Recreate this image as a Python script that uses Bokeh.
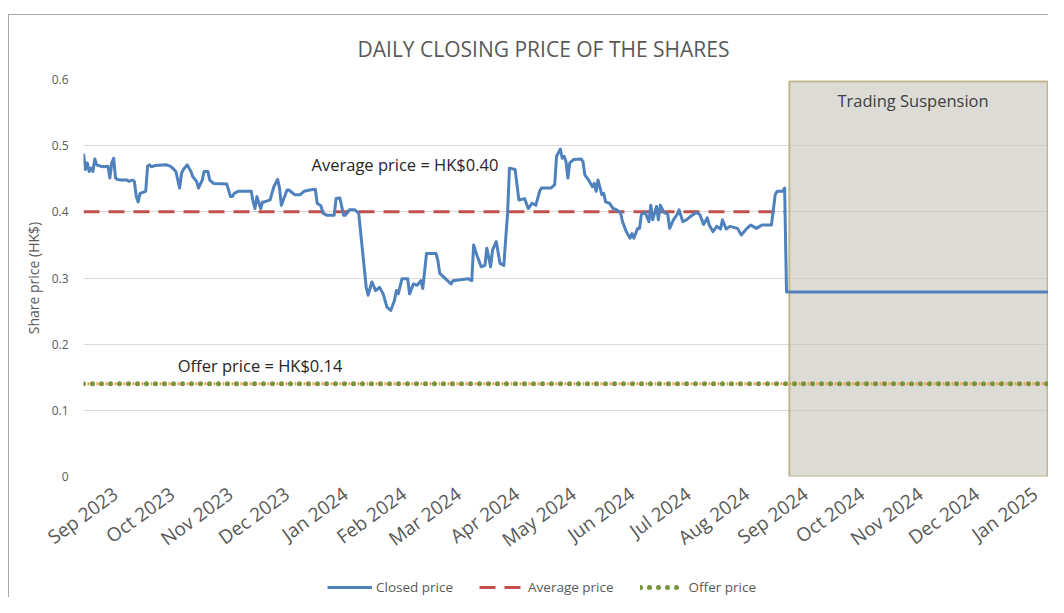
import math
import pandas as pd
from bokeh.plotting import figure
from bokeh.layouts import column
from bokeh.models import (Range1d, FixedTicker, MonthsTicker, DatetimeTickFormatter,
                          Label, Legend, LegendItem)
from bokeh.embed import file_html
from bokeh.resources import INLINE

# ---------------- data ----------------
close_dates = [
    "2023-08-15", "2023-08-16", "2023-08-17", "2023-08-18", "2023-08-19", "2023-08-20",
    "2023-08-21", "2023-08-22", "2023-08-24", "2023-08-26", "2023-08-28", "2023-08-29",
    "2023-08-30", "2023-08-31", "2023-09-01", "2023-09-02", "2023-09-04", "2023-09-07",
    "2023-09-08", "2023-09-10", "2023-09-11", "2023-09-12", "2023-09-13", "2023-09-14",
    "2023-09-17", "2023-09-18", "2023-09-19", "2023-09-20", "2023-09-22", "2023-09-28",
    "2023-09-30", "2023-10-02", "2023-10-03", "2023-10-05", "2023-10-06", "2023-10-07",
    "2023-10-09", "2023-10-11", "2023-10-12", "2023-10-14", "2023-10-15", "2023-10-17",
    "2023-10-18", "2023-10-20", "2023-10-21", "2023-10-23", "2023-10-30", "2023-11-01",
    "2023-11-02", "2023-11-03", "2023-11-05", "2023-11-12", "2023-11-13", "2023-11-14",
    "2023-11-15", "2023-11-17", "2023-11-18", "2023-11-19", "2023-11-22", "2023-11-24",
    "2023-11-26", "2023-11-27", "2023-11-28", "2023-11-29", "2023-12-01", "2023-12-02",
    "2023-12-05", "2023-12-08", "2023-12-10", "2023-12-13", "2023-12-16", "2023-12-17",
    "2023-12-19", "2023-12-20", "2023-12-22", "2023-12-26", "2023-12-27", "2023-12-29",
    "2023-12-31", "2024-01-01", "2024-01-03", "2024-01-06", "2024-01-08", "2024-01-10",
    "2024-01-12", "2024-01-13", "2024-01-15", "2024-01-17", "2024-01-19", "2024-01-21",
    "2024-01-23", "2024-01-25", "2024-01-27", "2024-01-28", "2024-01-29", "2024-01-31",
    "2024-02-03", "2024-02-04", "2024-02-06", "2024-02-08", "2024-02-10", "2024-02-11",
    "2024-02-13", "2024-02-18", "2024-02-19", "2024-02-20", "2024-02-23", "2024-02-26",
    "2024-02-27", "2024-03-06", "2024-03-08", "2024-03-09", "2024-03-11", "2024-03-13",
    "2024-03-15", "2024-03-16", "2024-03-18", "2024-03-19", "2024-03-21", "2024-03-23",
    "2024-03-25", "2024-03-27", "2024-03-28", "2024-03-31", "2024-04-02", "2024-04-05",
    "2024-04-07", "2024-04-09", "2024-04-11", "2024-04-13", "2024-04-14", "2024-04-19",
    "2024-04-21", "2024-04-22", "2024-04-24", "2024-04-25", "2024-04-26", "2024-04-27",
    "2024-04-28", "2024-04-29", "2024-05-01", "2024-05-05", "2024-05-06", "2024-05-07",
    "2024-05-09", "2024-05-11", "2024-05-12", "2024-05-13", "2024-05-14", "2024-05-16",
    "2024-05-17", "2024-05-18", "2024-05-20", "2024-05-22", "2024-05-24", "2024-05-26",
    "2024-05-27", "2024-05-29", "2024-05-31", "2024-06-01", "2024-06-02", "2024-06-04",
    "2024-06-05", "2024-06-06", "2024-06-08", "2024-06-10", "2024-06-11", "2024-06-12",
    "2024-06-14", "2024-06-15", "2024-06-16", "2024-06-18", "2024-06-20", "2024-06-21",
    "2024-06-23", "2024-06-25", "2024-06-26", "2024-06-28", "2024-06-30", "2024-07-02",
    "2024-07-05", "2024-07-07", "2024-07-09", "2024-07-11", "2024-07-12", "2024-07-14",
    "2024-07-16", "2024-07-18", "2024-07-19", "2024-07-21", "2024-07-23", "2024-07-27",
    "2024-07-29", "2024-08-01", "2024-08-03", "2024-08-06", "2024-08-09", "2024-08-14",
    "2024-08-16", "2024-08-17", "2024-08-20", "2024-08-21", "2024-08-22", "2025-01-08",
]
close_prices = [
    0.488, 0.464, 0.474, 0.461, 0.466, 0.461,
    0.480, 0.471, 0.469, 0.468, 0.469, 0.451,
    0.474, 0.481, 0.451, 0.449, 0.448, 0.448,
    0.446, 0.448, 0.446, 0.423, 0.415, 0.428,
    0.431, 0.469, 0.471, 0.468, 0.470, 0.471,
    0.469, 0.464, 0.461, 0.436, 0.458, 0.464,
    0.471, 0.461, 0.453, 0.446, 0.436, 0.448,
    0.461, 0.461, 0.448, 0.443, 0.442, 0.423,
    0.423, 0.428, 0.431, 0.431, 0.415, 0.405,
    0.423, 0.405, 0.415, 0.415, 0.418, 0.438,
    0.449, 0.436, 0.410, 0.418, 0.433, 0.433,
    0.426, 0.426, 0.431, 0.433, 0.434, 0.413,
    0.409, 0.398, 0.395, 0.395, 0.420, 0.421,
    0.395, 0.395, 0.403, 0.403, 0.398, 0.342,
    0.286, 0.274, 0.294, 0.281, 0.286, 0.276,
    0.256, 0.251, 0.266, 0.281, 0.276, 0.299,
    0.299, 0.276, 0.291, 0.289, 0.296, 0.284,
    0.337, 0.337, 0.327, 0.307, 0.299, 0.291,
    0.296, 0.299, 0.296, 0.350, 0.332, 0.317,
    0.319, 0.345, 0.317, 0.342, 0.355, 0.322,
    0.319, 0.398, 0.466, 0.464, 0.418, 0.420,
    0.405, 0.413, 0.410, 0.431, 0.436, 0.436,
    0.441, 0.484, 0.495, 0.481, 0.484, 0.476,
    0.451, 0.474, 0.479, 0.480, 0.476, 0.456,
    0.448, 0.438, 0.443, 0.431, 0.448, 0.426,
    0.428, 0.415, 0.413, 0.405, 0.403, 0.398,
    0.385, 0.370, 0.360, 0.367, 0.360, 0.375,
    0.375, 0.396, 0.399, 0.385, 0.410, 0.388,
    0.408, 0.388, 0.410, 0.399, 0.396, 0.375,
    0.388, 0.396, 0.403, 0.385, 0.388, 0.393,
    0.399, 0.396, 0.381, 0.391, 0.380, 0.370,
    0.378, 0.374, 0.388, 0.374, 0.378, 0.375,
    0.365, 0.375, 0.380, 0.375, 0.380, 0.380,
    0.426, 0.431, 0.431, 0.436, 0.279, 0.279,
]

average_price = 0.40
average_dates = ["2023-08-15", "2024-08-21"]
offer_price = 0.14
offer_dates = ["2023-08-15", "2025-01-08"]
suspension_dates = ["2024-08-23 12:00", "2025-01-07 12:00"]
suspension_top = 0.597

x_start, x_end = "2023-08-15", "2025-01-08"
y_ticks = [0, 0.1, 0.2, 0.3, 0.4, 0.5, 0.6]
y_tick_labels = ["0", "0.1", "0.2", "0.3", "0.4", "0.5", "0.6"]

title_text = "DAILY CLOSING PRICE OF THE SHARES"
avg_label = "Average price = HK$0.40"
offer_label = "Offer price = HK$0.14"
susp_label = "Trading Suspension"
avg_label_pos = ("2023-12-14", 0.472)
offer_label_pos = ("2023-10-04", 0.168)
susp_label_pos = ("2024-09-18", 0.568)
legend_labels = ["Closed price", "Average price", "Offer price"]

# ---------------- styles ----------------
FONT = "Open Sans"
GREY = "#595959"
CLOSE_STYLE = dict(line_color="#4f81bd", line_width=3, line_join="round")
AVG_STYLE = dict(line_color="#c0504d", line_width=3, line_dash="16 9")
OFFER_O_STYLE = dict(line_color="#f79646", line_width=3, line_dash="2 7", line_dash_offset=5)
OFFER_G_STYLE = dict(line_color="#77933c", line_width=5, line_dash="0 9", line_cap="round")

def ts(s):
    return pd.Timestamp(s)

# ---------------- main figure ----------------
p = figure(width=1039, height=563, x_axis_type="datetime",
           x_range=Range1d(ts(x_start), ts(x_end)), y_range=Range1d(0, 0.6),
           output_backend="svg", toolbar_location=None,
           min_border_left=74, min_border_right=0, min_border_top=64, min_border_bottom=102)
p.outline_line_color = None
p.background_fill_color = "white"
p.border_fill_color = "white"

# title
p.title.text = title_text
p.title.align = "left"
p.title.offset = 274
p.title.standoff = 34
p.title.text_font = FONT
p.title.text_font_size = "21px"
p.title.text_font_style = "normal"
p.title.text_color = GREY

# grid
p.xgrid.grid_line_color = None
p.ygrid.grid_line_color = "#d9d9d9"
p.ygrid.grid_line_width = 1
p.ygrid.ticker = FixedTicker(ticks=y_ticks)

# y axis
yax = p.yaxis[0]
yax.ticker = FixedTicker(ticks=y_ticks)
yax.major_label_overrides = {t: l for t, l in zip(y_ticks, y_tick_labels)}
yax.axis_line_color = None
yax.major_tick_line_color = None
yax.minor_tick_line_color = None
yax.major_tick_out = 0
yax.major_label_standoff = 15
yax.major_label_text_font = FONT
yax.major_label_text_font_size = "12px"
yax.major_label_text_color = GREY
yax.axis_label = "Share price (HK$)"
yax.axis_label_text_font = FONT
yax.axis_label_text_font_size = "14px"
yax.axis_label_text_font_style = "normal"
yax.axis_label_text_color = GREY
yax.axis_label_standoff = 6

# x axis
xax = p.xaxis[0]
xax.ticker = MonthsTicker(months=list(range(1, 13)))
fmt = "%b %Y"
xax.formatter = DatetimeTickFormatter(days=fmt, months=fmt, years=fmt, hours=fmt,
                                      minutes=fmt, seconds=fmt, milliseconds=fmt,
                                      microseconds=fmt, minsec=fmt, hourmin=fmt)
xax.major_label_orientation = math.radians(36)
xax.axis_line_color = None
xax.major_tick_line_color = None
xax.minor_tick_line_color = None
xax.major_tick_out = 0
xax.major_label_standoff = 15
xax.major_label_text_font = FONT
xax.major_label_text_font_size = "19px"
xax.major_label_text_color = GREY

# suspension box
p.quad(left=[ts(suspension_dates[0])], right=[ts(suspension_dates[1])],
       bottom=[0], top=[suspension_top],
       fill_color="#c6c3b9", fill_alpha=0.6, line_color="#bfb88f", line_width=2)

# lines
p.line([ts(d) for d in average_dates], [average_price] * len(average_dates), **AVG_STYLE)
p.line([ts(d) for d in offer_dates], [offer_price] * len(offer_dates), **OFFER_O_STYLE)
p.line([ts(d) for d in offer_dates], [offer_price] * len(offer_dates), **OFFER_G_STYLE)
p.line([ts(d) for d in close_dates], close_prices, **CLOSE_STYLE)

# texts
def add_label(txt, pos, size, color):
    x, y = pos
    p.add_layout(Label(x=ts(x).value / 1e6, y=y, text=txt, text_font=FONT,
                       text_font_size=size, text_color=color, text_baseline="middle"))

add_label(avg_label, avg_label_pos, "16.5px", "#262626")
add_label(offer_label, offer_label_pos, "16.5px", "#262626")
add_label(susp_label, susp_label_pos, "16.5px", "#404040")

# ---------------- legend strip ----------------
pl = figure(width=1039, height=19, x_range=Range1d(0, 1), y_range=Range1d(0, 1),
            output_backend="svg", toolbar_location=None,
            x_axis_location=None, y_axis_location=None,
            min_border_left=0, min_border_right=0, min_border_top=0, min_border_bottom=0)
pl.outline_line_color = None
pl.xgrid.visible = False
pl.ygrid.visible = False
# legend sample renderers: kept outside the visible range, only their legend swatches show
hidden_x, hidden_y = [-2, -1], [-2, -2]
lr_close = pl.line(hidden_x, hidden_y, **CLOSE_STYLE)
lr_avg = pl.line(hidden_x, hidden_y, **AVG_STYLE)
lr_offer = pl.line(hidden_x, hidden_y, **OFFER_G_STYLE)
legend = Legend(items=[LegendItem(label=legend_labels[0], renderers=[lr_close]),
                       LegendItem(label=legend_labels[1], renderers=[lr_avg]),
                       LegendItem(label=legend_labels[2], renderers=[lr_offer])],
                orientation="horizontal", location=(244, 1),
                padding=0, margin=0, spacing=26, glyph_width=45, glyph_height=16,
                label_standoff=4, label_text_font=FONT, label_text_font_size="13.5px",
                label_text_color=GREY, label_height=16, border_line_color=None,
                background_fill_alpha=0)
pl.add_layout(legend)

layout = column(p, pl, spacing=0)
layout.margin = (14, 0, 0, 8)
layout.styles = {"border-top": "1px solid #a6a6a6", "border-left": "1px solid #a6a6a6"}

open("out.html", "w").write(file_html(layout, INLINE))
